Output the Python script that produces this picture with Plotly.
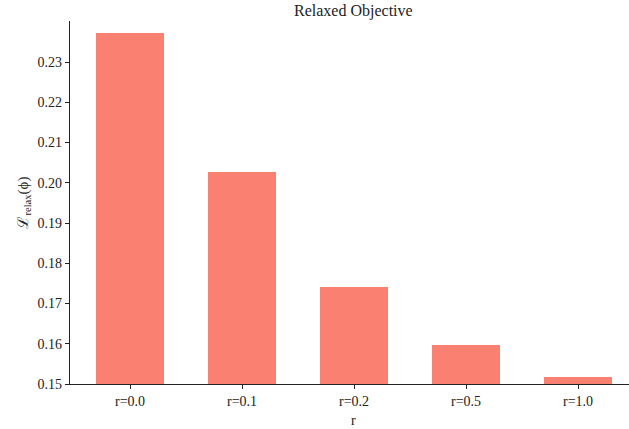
import plotly.graph_objects as go

categories = ["r=0.0", "r=0.1", "r=0.2", "r=0.5", "r=1.0"]
values = [0.2372, 0.2027, 0.1741, 0.1597, 0.1517]
y_ticks = [0.15, 0.16, 0.17, 0.18, 0.19, 0.20, 0.21, 0.22, 0.23]

font_family = "Liberation Serif, DejaVu Serif, serif"

fig = go.Figure()
fig.add_trace(go.Bar(
    x=list(range(len(categories))),
    y=values,
    width=0.6,
    marker=dict(color="#FA8072", line=dict(width=0)),
    base=0,
))

fig.update_layout(
    width=629, height=429,
    margin=dict(l=70, r=0, t=21, b=45, autoexpand=False),
    paper_bgcolor="white", plot_bgcolor="white",
    font=dict(family=font_family, size=14, color="#222"),
    showlegend=False,
    bargap=0,
)

fig.add_annotation(text="Relaxed Objective", xref="paper", x=0.508, xanchor="center",
                   yref="paper", y=1, yshift=21, yanchor="top", showarrow=False,
                   font=dict(family=font_family, size=16, color="#222"))
fig.add_annotation(text="r", xref="paper", x=0.508, xanchor="center",
                   yref="paper", y=0, yshift=-36, yanchor="middle", showarrow=False,
                   font=dict(family=font_family, size=14, color="#222"))
fig.add_annotation(text="ℒ<sub>relax</sub>(ϕ)", xref="paper", x=0, xshift=-47, xanchor="center",
                   yref="paper", y=0.5, yanchor="middle", textangle=-90, showarrow=False,
                   font=dict(family=font_family, size=15, color="#222"))

fig.update_xaxes(
    tickmode="array", tickvals=list(range(len(categories))), ticktext=categories,
    range=[-0.536, 4.455], automargin=False,
    showline=True, linecolor="#222", linewidth=1.2,
    ticks="outside", ticklen=4, tickwidth=1, tickcolor="#222",
    showgrid=False, zeroline=False,
    tickfont=dict(size=14),
)
fig.update_yaxes(
    tickmode="array", tickvals=y_ticks, ticktext=[f"{v:.2f}" for v in y_ticks],
    range=[0.15, 0.2402], automargin=False,
    showline=True, linecolor="#222", linewidth=1.2,
    ticks="outside", ticklen=4, tickwidth=1, tickcolor="#222",
    showgrid=False, zeroline=False,
    tickfont=dict(size=14),
)

fig.write_html("out.html", config={"displayModeBar": False},
               post_script="document.body.style.margin='0';document.body.style.overflow='hidden';")
